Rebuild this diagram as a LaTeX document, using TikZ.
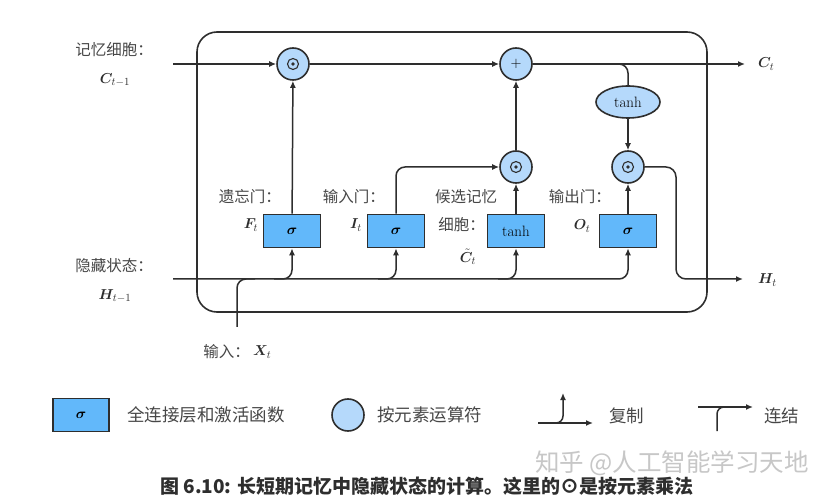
\documentclass[tikz,border=0pt]{standalone}
\usepackage{bm}
\usepackage{fontspec}
\newfontfamily\cjk{Noto Sans CJK SC}
\usetikzlibrary{shapes.geometric,arrows.meta}
\definecolor{ln}{HTML}{2E2E2E}
\definecolor{boxfill}{HTML}{62B8FA}
\definecolor{circfill}{HTML}{B5D9FB}
\definecolor{lab}{HTML}{474747}
\tikzset{
  x=1pt,y=-1pt,
  wire/.style={line width=1.5pt,draw=ln},
  arr/.style={wire,-{Latex[length=7pt,width=6pt]}},
  layer/.style={draw=ln,line width=1.6pt,fill=boxfill,minimum width=57pt,minimum height=33pt,inner sep=0pt,font=\fontsize{15}{15}\selectfont},
  op/.style={circle,draw=ln,line width=1.6pt,fill=circfill,minimum size=32pt,inner sep=0pt},
  cn/.style={text=lab,inner sep=1pt,font=\cjk\fontsize{15.5}{17}\selectfont},
  cnl/.style={text=lab,inner sep=1pt,font=\cjk\fontsize{17.5}{19}\selectfont},
  mlab/.style={text=ln,inner sep=1pt,font=\fontsize{15}{15}\selectfont},
}
\newcommand{\hadam}[1]{\draw[line width=1.1pt,ln] (#1) circle (5.5pt); \fill[ln] (#1) circle (1.8pt);}
\begin{document}
\begin{tikzpicture}
\useasboundingbox (0,0) rectangle (832,502);
\fill[white] (0,0) rectangle (832,502);
% outer cell
\node[draw=ln,line width=1.6pt,rounded corners=20pt,minimum width=510pt,minimum height=280pt,inner sep=0pt] (cell) at (452,172) {};
% operators
\node[op] (mf) at (293,64) {};
\node[op] (add) at (516,64) {\fontsize{15}{15}\selectfont $+$};
\node[op] (mi) at (516,167) {};
\node[op] (mo) at (628,167) {};
\hadam{mf} \hadam{mi} \hadam{mo}
\node[ellipse,draw=ln,line width=1.6pt,fill=circfill,minimum width=64pt,minimum height=32pt,inner sep=0pt,font=\fontsize{15}{15}\selectfont] (th) at (628,102) {tanh};
% layers
\node[layer] (bf) at (292,231) {$\bm{\sigma}$};
\node[layer] (bi) at (396,231) {$\bm{\sigma}$};
\node[layer] (bc) at (516,231) {tanh};
\node[layer] (bo) at (628,231) {$\bm{\sigma}$};
% end points
\coordinate (cin) at (173,64);
\coordinate (cout) at (745,64);
\coordinate (hin) at (173,279);
\coordinate (hout) at (743,279);
\coordinate (xin) at (237,327);
% memory line
\draw[arr] (cin) -- (mf);
\draw[arr] (mf) -- (add);
\draw[arr] (add) -- (cout);
\draw[wire,rounded corners=9pt] (add.east) -- (th.north |- add) -- (th.north);
\draw[arr] (th) -- (mo);
\draw[arr,rounded corners=10pt] (mo.east) -- (676,167) -- (676,279) -- (hout);
% gates to operators
\draw[arr] (bf) -- (mf);
\draw[arr,rounded corners=9pt] (bi.north) -- (bi.north |- mi) -- (mi.west);
\draw[arr] (bc) -- (mi);
\draw[arr] (mi) -- (add);
\draw[arr] (bo) -- (mo);
% hidden state line
\draw[arr,rounded corners=9pt] (hin) -- (bo.south |- hin) -- (bo.south);
\draw[arr,rounded corners=9pt] ([xshift=-18pt]bf.south |- hin) -- (bf.south |- hin) -- (bf.south);
\draw[arr,rounded corners=9pt] ([xshift=-18pt]bi.south |- hin) -- (bi.south |- hin) -- (bi.south);
\draw[arr,rounded corners=9pt] ([xshift=-18pt]bc.south |- hin) -- (bc.south |- hin) -- (bc.south);
\draw[wire,rounded corners=9pt] (xin) -- (xin |- hin) -- ([xshift=18pt]xin |- hin);
% labels
\node[cn] (lc) at (114,50) {记忆细胞：};
\node[mlab] (lcv) at (115,80) {$\bm{C}_{t-1}$};
\node[cn] (lh) at (114,266) {隐藏状态：};
\node[mlab] (lhv) at (115,296) {$\bm{H}_{t-1}$};
\node[mlab,anchor=west] (lct) at (757,64) {$\bm{C}_{t}$};
\node[mlab,anchor=west] (lht) at (757,280) {$\bm{H}_{t}$};
\node[cn,anchor=east] (lf) at (282,197) {遗忘门：};
\node[mlab] (lfv) at (251,225) {$\bm{F}_{t}$};
\node[cn,anchor=east] (li) at (386,197) {输入门：};
\node[mlab] (liv) at (356,225) {$\bm{I}_{t}$};
\node[cn] (lcc) at (466,197) {候选记忆};
\node[cn,anchor=east] (lcc2) at (486,225) {细胞：};
\node[mlab] (lccv) at (468,257) {$\tilde{\bm{C}}_{t}$};
\node[cn,anchor=east] (lo) at (612,197) {输出门：};
\node[mlab] (lov) at (582,226) {$\bm{O}_{t}$};
\node[cn,anchor=east] (lx) at (251,352) {输入：};
\node[mlab,anchor=west] (lxv) at (252,352) {$\bm{X}_{t}$};
% legend
\node[layer,minimum width=56pt] (gbox) at (81,415) {$\bm{\sigma}$};
\node[cnl,anchor=west] (gboxt) at (126,415) {全连接层和激活函数};
\node[op] (gcirc) at (348,415) {};
\node[cnl,anchor=west] (gcirct) at (376,415) {按元素运算符};
\coordinate (cpa) at (538,423);
\coordinate (cpb) at (593,423);
\coordinate (cpc) at (548,423);
\coordinate (cpd) at (563,393);
\draw[arr] (cpa) -- (cpb);
\draw[arr,rounded corners=7pt] (cpc) -- (cpd |- cpc) -- (cpd);
\node[cnl,anchor=west] (cpt) at (608,416) {复制};
\coordinate (cta) at (698,407);
\coordinate (ctb) at (753,407);
\coordinate (ctc) at (717,431);
\coordinate (ctd) at (730,407);
\draw[arr] (cta) -- (ctb);
\draw[wire,rounded corners=7pt] (ctc) -- (ctc |- cta) -- (ctd);
\node[cnl,anchor=west] (ctt) at (763,416) {连结};
% caption and watermark
\node[anchor=west,text=ln,inner sep=0pt,font=\cjk\bfseries\fontsize{19}{19}\selectfont] (cap) at (160,486) {图 6.10: 长短期记忆中隐藏状态的计算。这里的⊙是按元素乘法};
\node[anchor=west,text=black!22,inner sep=0pt,font=\cjk\fontsize{24.5}{25}\selectfont] (wm) at (535,463) {知乎 @人工智能学习天地};
\end{tikzpicture}
\end{document}
